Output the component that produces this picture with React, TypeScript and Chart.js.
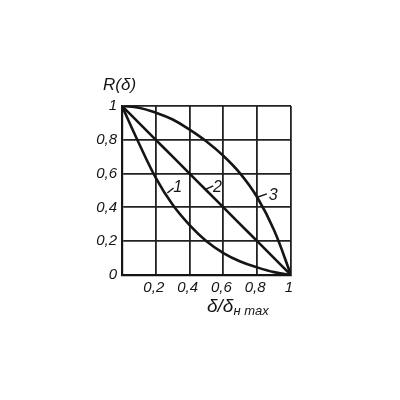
import { useEffect, useRef } from "react"
import { Chart, registerables } from "chart.js"

Chart.register(...registerables)

// relative deflection δ/δн max
const xValues = [0, 0.1, 0.2, 0.3, 0.4, 0.5, 0.6, 0.7, 0.8, 0.9, 1]
// R(δ) for the three curves
const curve1 = [1, 0.78, 0.575, 0.415, 0.295, 0.2, 0.13, 0.08, 0.045, 0.017, 0]
const curve2 = [1, 0.9, 0.8, 0.7, 0.6, 0.5, 0.4, 0.3, 0.2, 0.1, 0]
const curve3 = [1, 0.99, 0.96, 0.92, 0.86, 0.79, 0.705, 0.6, 0.46, 0.265, 0]

const tickValues = [0, 0.2, 0.4, 0.6, 0.8, 1]

// curve labels: text, text position, leader line start -> end (data units)
const curveLabels = ["1", "2", "3"]
const labelPos = [
  [0.33, 0.515],
  [0.565, 0.515],
  [0.895, 0.47],
]
const leaderFrom = [
  [0.268, 0.485],
  [0.497, 0.508],
  [0.8, 0.46],
]
const leaderTo = [
  [0.305, 0.515],
  [0.54, 0.528],
  [0.857, 0.48],
]

const INK = "#151515"
const FONT = "'Liberation Sans', Arial, sans-serif"

const fmt = (v: number) => String(Math.round(v * 10) / 10).replace(".", ",")

const toPoints = (ys: number[]) => xValues.map((x, i) => ({ x, y: ys[i] }))

const annotations = {
  id: "annotations",
  afterDatasetsDraw(chart: Chart) {
    const { ctx, chartArea } = chart
    const xs = chart.scales.x
    const ys = chart.scales.y
    ctx.save()
    ctx.strokeStyle = INK
    ctx.fillStyle = INK
    ctx.lineWidth = 1.4
    ctx.textAlign = "center"
    ctx.textBaseline = "middle"
    ctx.font = `italic 16px ${FONT}`
    curveLabels.forEach((t, i) => {
      ctx.beginPath()
      ctx.moveTo(xs.getPixelForValue(leaderFrom[i][0]), ys.getPixelForValue(leaderFrom[i][1]))
      ctx.lineTo(xs.getPixelForValue(leaderTo[i][0]), ys.getPixelForValue(leaderTo[i][1]))
      ctx.stroke()
      ctx.fillText(t, xs.getPixelForValue(labelPos[i][0]), ys.getPixelForValue(labelPos[i][1]))
    })

    // y title
    ctx.textAlign = "left"
    ctx.font = `italic 17px ${FONT}`
    ctx.fillText("R(δ)", chartArea.left - 19, chartArea.top - 21)

    // x title with subscript
    const tx = chartArea.left + 85
    const ty = chartArea.bottom + 32
    ctx.font = `italic 19px ${FONT}`
    const main = "δ/δ"
    ctx.fillText(main, tx, ty)
    const w = ctx.measureText(main).width
    ctx.font = `italic 13px ${FONT}`
    ctx.fillText("н max", tx + w, ty + 4)
    ctx.restore()
  },
}

export default function App() {
  const chartRef = useRef<HTMLCanvasElement>(null)
  const chartInstance = useRef<Chart | null>(null)

  useEffect(() => {
    if (!chartRef.current) return
    const ctx = chartRef.current.getContext("2d")
    if (!ctx) return
    if (chartInstance.current) chartInstance.current.destroy()

    const line = (label: string, ys: number[]) => ({
      label,
      data: toPoints(ys),
      borderColor: INK,
      borderWidth: 2.6,
      pointRadius: 0,
      tension: 0.4,
      fill: false,
    })

    const tickFont = { family: FONT, size: 15, style: "italic" as const }

    chartInstance.current = new Chart(ctx, {
      type: "line",
      data: {
        datasets: [line("1", curve1), line("2", curve2), line("3", curve3)],
      },
      options: {
        animation: false,
        responsive: true,
        maintainAspectRatio: false,
        layout: { padding: { top: 106, right: 109, left: 0, bottom: 0 } },
        plugins: {
          legend: { display: false },
          tooltip: { enabled: false },
        },
        scales: {
          x: {
            type: "linear",
            min: 0,
            max: 1,
            afterBuildTicks: (scale) => {
              scale.ticks = tickValues.map((value) => ({ value }))
            },
            afterFit: (scale) => {
              scale.height = 125
            },
            grid: { color: "#222", lineWidth: 1.8, drawTicks: false },
            border: { display: true, color: INK, width: 2.2 },
            ticks: {
              color: INK,
              font: tickFont,
              padding: 4,
              labelOffset: -2,
              maxRotation: 0,
              callback: (v) => (Number(v) === 0 ? "" : fmt(Number(v))),
            },
          },
          y: {
            type: "linear",
            min: 0,
            max: 1,
            afterBuildTicks: (scale) => {
              scale.ticks = tickValues.map((value) => ({ value }))
            },
            afterFit: (scale) => {
              scale.width = 122
            },
            grid: { color: "#222", lineWidth: 1.8, drawTicks: false },
            border: { display: true, color: INK, width: 2.2 },
            ticks: {
              color: INK,
              font: tickFont,
              padding: 5,
              callback: (v) => fmt(Number(v)),
            },
          },
        },
      },
      plugins: [annotations],
    })

    return () => {
      if (chartInstance.current) {
        chartInstance.current.destroy()
        chartInstance.current = null
      }
    }
  }, [])

  return (
    <div style={{ position: "absolute", left: 0, top: 0, width: 400, height: 400, background: "#fff" }}>
      <canvas ref={chartRef} />
    </div>
  )
}
